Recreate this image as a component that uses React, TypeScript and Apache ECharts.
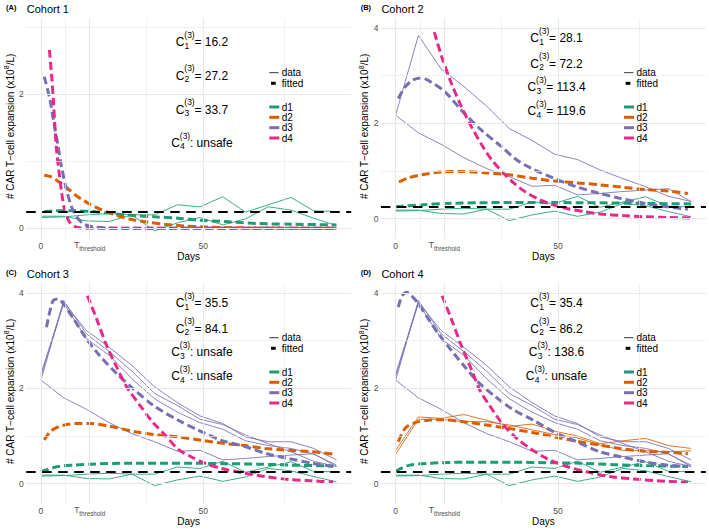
import { useEffect, useRef } from 'react';
import * as echarts from 'echarts';

// Observation days (weekly sampling)
const days = [0, 7, 14, 21, 28, 35, 42, 49, 56, 63, 70, 77, 84, 91];

// Observed CAR T-cell expansion per patient (x10^8/L)
const d1Patient1 = [0.18, 0.18, 0.11, 0.1, 0.2, 0.2, 0.35, 0.32, 0.47, 0.24, 0.35, 0.46, 0.26, 0.25];
const d1Patient2 = [0.16, 0.17, 0.2, 0.22, 0.2, -0.04, 0.08, 0.16, 0.05, 0.14, 0.32, 0.27, 0.15, 0.04];
const d2Patient1 = [0.7, 1.4, 1.37, 1.45, 1.33, 1.2, 1.25, 1.1, 1.0, 0.84, 0.9, 0.95, 0.8, 0.74];
const d2Patient2 = [0.62, 1.35, 1.35, 1.3, 1.3, 1.23, 1.13, 1.03, 0.96, 0.81, 0.7, 0.69, 0.67, 0.69];
const d3Patient1 = [2.17, 3.84, 3.14, 2.77, 2.36, 1.89, 1.64, 1.35, 1.24, 1.02, 0.84, 0.67, 0.47, 0.36];
const d3Patient2 = [2.17, 1.8, 1.56, 1.28, 1.05, 0.88, 0.68, 0.7, 0.5, 0.53, 0.57, 0.6, 0.63, 0.36];
const d3Patient3 = [2.3, 3.8, 3.21, 2.86, 2.48, 2.03, 1.7, 1.42, 1.26, 0.98, 0.88, 0.88, 0.74, 0.5];
const d3Patient4 = [2.25, 3.78, 3.04, 2.69, 2.2, 1.78, 1.5, 1.28, 1.14, 0.9, 0.8, 0.74, 0.62, 0.39];

// Fitted expansion curves, [day, value]
const fitA_d1 = [[1, 0.25], [4.3, 0.26], [9, 0.26], [15.6, 0.25], [25.9, 0.2], [35.1, 0.17], [42.3, 0.15], [49, 0.12], [56.7, 0.1], [67, 0.07], [77.2, 0.06], [91, 0.05]];
const fitA_d2 = [[1, 0.79], [3, 0.77], [5, 0.71], [7, 0.64], [9, 0.56], [11, 0.48], [13, 0.42], [15, 0.36], [17, 0.31], [20, 0.25], [24, 0.18], [28, 0.13], [33, 0.09], [38, 0.06], [44, 0.035], [50, 0.02], [60, 0.008], [75, 0.002], [91, 0]];
const fitA_d3 = [[1, 2.26], [2.8, 1.91], [3.8, 1.62], [5.3, 1.22], [6.3, 0.92], [7.9, 0.57], [9.4, 0.32], [11, 0.17], [13, 0.07], [15.6, 0.025], [20, 0.005], [25, 0], [40, 0], [60, 0], [91, 0]];
const fitA_d4 = [[2.6, 2.66], [3.3, 2.26], [3.8, 1.92], [4.3, 1.52], [4.8, 1.17], [5.6, 0.82], [6.4, 0.52], [7.4, 0.25], [8.9, 0.085], [11, 0.015], [14, 0], [25, 0], [40, 0], [60, 0], [91, 0]];

const fitB_d1 = [[0, 0.25], [7.5, 0.29], [15.7, 0.32], [26, 0.335], [36, 0.34], [46.5, 0.34], [56.8, 0.335], [67, 0.33], [77.3, 0.32], [91, 0.31]];
const fitB_d2 = [[1, 0.77], [4, 0.86], [8, 0.92], [14, 0.98], [21, 0.99], [28, 0.96], [35, 0.92], [42, 0.85], [49, 0.79], [56, 0.75], [63, 0.71], [70, 0.66], [77, 0.61], [84, 0.58], [90, 0.53]];
const fitB_d3 = [[0.8, 2.52], [2.9, 2.76], [5.4, 2.91], [8, 2.95], [11, 2.86], [15.2, 2.66], [20.3, 2.27], [26.5, 1.85], [32.6, 1.51], [37.3, 1.23], [41.4, 1.07], [48.6, 0.85], [55.7, 0.67], [62.9, 0.53], [69, 0.43], [76.8, 0.32], [83.5, 0.25], [90, 0.2]];
const fitB_d4 = [[11.9, 3.91], [14.2, 3.39], [17.2, 2.83], [20.3, 2.34], [23.4, 1.92], [26.5, 1.55], [29.5, 1.24], [33, 0.97], [36.5, 0.74], [40, 0.56], [44, 0.41], [48, 0.3], [53, 0.21], [58, 0.15], [63, 0.1], [70, 0.065], [77, 0.04], [84, 0.025], [91, 0.015]];

const fitC_d1 = [[0, 0.25], [5.3, 0.36], [10.5, 0.39], [15.6, 0.41], [26, 0.43], [36, 0.43], [46.4, 0.43], [56.7, 0.42], [67, 0.41], [77, 0.39], [90, 0.37]];
const fitC_d2 = [[1, 0.92], [3, 1.1], [5.3, 1.19], [8, 1.24], [10.5, 1.26], [15.6, 1.26], [20.7, 1.21], [29, 1.09], [36, 1.02], [42.3, 0.98], [49.5, 0.91], [56.7, 0.84], [62.8, 0.8], [69, 0.74], [76.2, 0.7], [83.4, 0.67], [90, 0.62]];
const fitC_d3 = [[1.7, 3.28], [2.8, 3.63], [3.8, 3.84], [5.3, 3.87], [6.9, 3.77], [10, 3.46], [14, 3.04], [18, 2.69], [23.3, 2.31], [28.4, 1.99], [34.6, 1.64], [42.3, 1.33], [48.5, 1.12], [55.6, 0.91], [62.8, 0.78], [69, 0.64], [76.2, 0.53], [83.4, 0.43], [90, 0.36]];
const fitC_d4 = [[14.3, 3.94], [17.1, 3.46], [20.2, 2.9], [23.3, 2.45], [26.4, 2.03], [30.5, 1.64], [34.3, 1.3], [38.5, 1.0], [42.3, 0.72], [46.4, 0.56], [50.5, 0.43], [55.6, 0.32], [62.8, 0.22], [69, 0.15], [76.2, 0.09], [83.4, 0.06], [90, 0.035]];

const fitD_d1 = [[0, 0.26], [2, 0.33], [4.4, 0.39], [10.6, 0.43], [20.8, 0.45], [36.2, 0.45], [46.5, 0.44], [56.8, 0.43], [67, 0.4], [77.3, 0.38], [90, 0.36]];
const fitD_d2 = [[0.8, 0.88], [3, 1.17], [6, 1.28], [10, 1.33], [15, 1.34], [20.8, 1.3], [28, 1.23], [34.7, 1.16], [42.4, 1.07], [49.1, 0.98], [55.7, 0.89], [62.9, 0.81], [69, 0.74], [76.8, 0.68], [83.5, 0.66], [90, 0.63]];
const fitD_d3 = [[0.8, 3.7], [2, 3.94], [3.4, 4.01], [4.9, 3.94], [7, 3.77], [10, 3.46], [13.2, 3.14], [17.2, 2.79], [21.3, 2.45], [25.4, 2.13], [30.6, 1.83], [36, 1.56], [42.4, 1.33], [48.6, 1.09], [55.7, 0.88], [62.9, 0.67], [69, 0.57], [76.8, 0.46], [83.5, 0.39], [90, 0.36]];
const fitD_d4 = [[14.3, 3.94], [17.1, 3.46], [20.2, 2.9], [23.3, 2.4], [26, 1.95], [29, 1.63], [33.2, 1.23], [37.3, 0.95], [41.4, 0.74], [46.5, 0.53], [52.7, 0.36], [58.8, 0.25], [66, 0.15], [73.2, 0.1], [80.4, 0.06], [90, 0.03]];

// Toxicity threshold level
const threshold = 0.25;

const doseNames = ['d1', 'd2', 'd3', 'd4'];
const doseColors = ['#1B9E77', '#D95F02', '#7570B3', '#E7298A'];

const panelTags = ['(A)', '(B)', '(C)', '(D)'];
const cohortTitles = ['Cohort 1', 'Cohort 2', 'Cohort 3', 'Cohort 4'];

// Dose-level estimates per cohort
const doseSubscripts = ['1', '2', '3', '4'];
const cohort1Estimates = ['= 16.2', '= 27.2', '= 33.7', ': unsafe'];
const cohort2Estimates = ['= 28.1', '= 72.2', '= 113.4', '= 119.6'];
const cohort3Estimates = ['= 35.5', '= 84.1', ': unsafe', ': unsafe'];
const cohort4Estimates = ['= 35.4', '= 86.2', ': 138.6', ': unsafe'];
const estimateYCohort1 = [2.77, 2.27, 1.77, 1.27];
const estimateYLater = [3.78, 3.25, 2.75, 2.25];
const estimateX = 49.6;

// Axis breaks
const xMajor = [0, 15, 50];
const xMinor = [7.5, 32.5, 75];
const xLabelValues = [0, 50];
const thresholdDay = 15;
const yMajorCohort1 = [0, 2];
const yMajorLater = [0, 2, 4];
const yMinor = [1, 3];

const FONT = '"Liberation Sans", Arial, Helvetica, sans-serif';

const gridLeft = [26.2, 380.9, 26.2, 380.9];
const gridTop = [18.3, 18.3, 283.3, 283.3];
const gridW = 325;
const gridH = 220.7;

const panels = [
  {
    yMin: -0.16, yMax: 3.13, yMajor: yMajorCohort1,
    observed: [[0, d1Patient1], [0, d1Patient2]],
    fits: [fitA_d1, fitA_d2, fitA_d3, fitA_d4],
    estimates: cohort1Estimates, estimateY: estimateYCohort1,
  },
  {
    yMin: -0.425, yMax: 4.2, yMajor: yMajorLater,
    observed: [[0, d1Patient1], [0, d1Patient2], [2, d3Patient1], [2, d3Patient2]],
    fits: [fitB_d1, fitB_d2, fitB_d3, fitB_d4],
    estimates: cohort2Estimates, estimateY: estimateYLater,
  },
  {
    yMin: -0.425, yMax: 4.2, yMajor: yMajorLater,
    observed: [[0, d1Patient1], [0, d1Patient2], [2, d3Patient1], [2, d3Patient2], [2, d3Patient3], [2, d3Patient4]],
    fits: [fitC_d1, fitC_d2, fitC_d3, fitC_d4],
    estimates: cohort3Estimates, estimateY: estimateYLater,
  },
  {
    yMin: -0.425, yMax: 4.2, yMajor: yMajorLater,
    observed: [[0, d1Patient1], [0, d1Patient2], [1, d2Patient1], [1, d2Patient2], [2, d3Patient1], [2, d3Patient2], [2, d3Patient3], [2, d3Patient4]],
    fits: [fitD_d1, fitD_d2, fitD_d3, fitD_d4],
    estimates: cohort4Estimates, estimateY: estimateYLater,
  },
];

function text(x: number, y: number, s: string, size: number, opts: any = {}) {
  const align = opts.align || 'left';
  const vAlign = opts.vAlign || 'middle';
  return {
    type: 'text',
    x,
    y,
    silent: true,
    z: 100,
    style: {
      text: s,
      fontSize: size,
      fontFamily: FONT,
      fontWeight: opts.weight || 'normal',
      fill: opts.fill || '#000000',
      align,
      verticalAlign: vAlign,
      textAlign: align,
      textVerticalAlign: vAlign,
    },
  };
}

// invisible carrier series for reference lines
function refLines(i: number, z: number, lineStyle: any, data: any[]) {
  return {
    type: 'line', xAxisIndex: i, yAxisIndex: i, silent: true, z,
    data: [[0, 0]], symbol: 'none', showSymbol: false,
    lineStyle: { opacity: 0, width: 0 },
    markLine: {
      silent: true, symbol: ['none', 'none'], label: { show: false },
      lineStyle, data,
    },
  };
}

export default function App() {
  const ref = useRef<HTMLDivElement>(null);

  useEffect(() => {
    if (!ref.current) return;
    const chart = echarts.init(ref.current, undefined, { renderer: 'svg' });
    const ctx = document.createElement('canvas').getContext('2d') as CanvasRenderingContext2D;
    const width = (s: string, size: number, weight = 'normal') => {
      ctx.font = `${weight} ${size}px "Liberation Sans"`;
      return ctx.measureText(s).width;
    };

    const grids: any[] = [];
    const xAxes: any[] = [];
    const yAxes: any[] = [];
    const series: any[] = [];

    panels.forEach((p, i) => {
      grids.push({ left: gridLeft[i], top: gridTop[i], width: gridW, height: gridH });
      xAxes.push({
        type: 'value', gridIndex: i, min: -4.55, max: 95.55,
        axisLine: { show: false }, axisTick: { show: false, customValues: xLabelValues },
        splitLine: { show: false },
        axisLabel: { customValues: xLabelValues, margin: 2.5, fontSize: 8.5, color: '#4d4d4d', fontFamily: FONT },
      });
      yAxes.push({
        type: 'value', gridIndex: i, min: p.yMin, max: p.yMax,
        axisLine: { show: false }, axisTick: { show: false, customValues: p.yMajor },
        splitLine: { show: false },
        axisLabel: { customValues: p.yMajor, margin: 2.5, fontSize: 8.5, color: '#4d4d4d', fontFamily: FONT },
      });

      // panel grid lines
      series.push(refLines(i, 1, { color: '#ebebeb', width: 0.7, type: 'solid' },
        [...xMinor.map((v) => ({ xAxis: v })), ...yMinor.filter((v) => v < p.yMax).map((v) => ({ yAxis: v }))]));
      series.push(refLines(i, 1, { color: '#e8e8e8', width: 1.1, type: 'solid' },
        [...xMajor.map((v) => ({ xAxis: v })), ...p.yMajor.map((v) => ({ yAxis: v }))]));

      // observed trajectories
      p.observed.forEach(([dose, vals]: any) => {
        series.push({
          type: 'line', xAxisIndex: i, yAxisIndex: i, silent: true, z: 2,
          symbol: 'none', showSymbol: false,
          data: days.map((d, k) => [d, vals[k]]),
          lineStyle: { color: doseColors[dose], width: 1, opacity: 0.85 },
        });
      });

      // fitted curves
      p.fits.forEach((fit, dose) => {
        series.push({
          type: 'line', xAxisIndex: i, yAxisIndex: i, silent: true, z: 3,
          symbol: 'none', showSymbol: false, smooth: 0.3,
          data: fit,
          lineStyle: { color: doseColors[dose], width: 3, type: [8, 4] },
        });
      });

      // threshold
      series.push(refLines(i, 4, { color: '#000000', width: 2.2, type: [9.5, 6.5] }, [{ yAxis: threshold }]));
    });

    chart.setOption({
      animation: false,
      backgroundColor: '#ffffff',
      grid: grids,
      xAxis: xAxes,
      yAxis: yAxes,
      series,
    });

    const graphics: any[] = [];
    panels.forEach((p, i) => {
      const gl = gridLeft[i];
      const gt = gridTop[i];

      // tag and title
      graphics.push(text(gl - 20.2, gt - 10.8, panelTags[i], 7.5, { weight: 'bold' }));
      graphics.push(text(gl + 0.5, gt - 9.8, cohortTitles[i], 11));

      // axis titles
      graphics.push(text(gl + gridW / 2, gt + 238.4, 'Days', 10, { align: 'center' }));
      const t1 = '# CAR T\u2212cell expansion (x10';
      const t2 = '8';
      const t3 = '/L)';
      const w1 = width(t1, 10);
      const w2 = width(t2, 7);
      const w3 = width(t3, 10);
      const tot = w1 + w2 + w3;
      graphics.push({
        type: 'group', x: gl - 16.2, y: gt + 108, rotation: Math.PI / 2,
        children: [
          text(-tot / 2, 0, t1, 10),
          text(-tot / 2 + w1, -3.6, t2, 7),
          text(-tot / 2 + w1 + w2, 0, t3, 10),
        ],
      });

      // T threshold tick label
      const [px15] = chart.convertToPixel({ gridIndex: i }, [thresholdDay, 0]) as number[];
      const wT = width('T', 8.5);
      const wTh = width('threshold', 6.3);
      const ts = px15 - (wT + wTh) / 2;
      graphics.push(text(ts, gt + 226.7, 'T', 8.5, { fill: '#4d4d4d' }));
      graphics.push(text(ts + wT, gt + 229.8, 'threshold', 6.3, { fill: '#4d4d4d' }));

      // dose estimates
      p.estimates.forEach((rest, k) => {
        const [cx, cy] = chart.convertToPixel({ gridIndex: i }, [estimateX, p.estimateY[k]]) as number[];
        const wC = width('C', 12);
        const wS = Math.max(width('(3)', 8.5), width(doseSubscripts[k], 8.5));
        const wR = width(rest, 12);
        const x0 = cx - (wC + wS + wR) / 2;
        graphics.push(text(x0, cy, 'C', 12));
        graphics.push(text(x0 + wC, cy - 7.5, '(3)', 8.5));
        graphics.push(text(x0 + wC + 0.3, cy + 3.4, doseSubscripts[k], 8.5));
        graphics.push(text(x0 + wC + wS - 0.3, cy, rest, 12));
      });

      // legend
      const kx = gl + 243.1;
      const tx = gl + 255.5;
      graphics.push({
        type: 'line', silent: true, z: 100,
        shape: { x1: kx, y1: gt + 54.4, x2: kx + 9.3, y2: gt + 54.4 },
        style: { stroke: '#333333', lineWidth: 1 },
      });
      graphics.push(text(tx, gt + 54.4, 'data', 10));
      graphics.push({
        type: 'rect', silent: true, z: 100,
        shape: { x: kx + 1.7, y: gt + 65 - 1.5, width: 4.7, height: 3 },
        style: { fill: '#000000' },
      });
      graphics.push(text(tx, gt + 65, 'fitted', 10));
      const rows = [88.7, 99, 109.4, 119.7];
      doseNames.forEach((name, k) => {
        graphics.push({
          type: 'rect', silent: true, z: 100,
          shape: { x: kx, y: gt + rows[k] - 1.5, width: 10, height: 3 },
          style: { fill: doseColors[k] },
        });
        graphics.push(text(tx, gt + rows[k], name, 10));
      });
    });

    chart.setOption({ graphic: graphics });

    return () => chart.dispose();
  }, []);

  return (
    <div
      ref={ref}
      style={{ position: 'absolute', left: 0, top: 0, width: 709, height: 531, background: '#ffffff' }}
    />
  );
}
